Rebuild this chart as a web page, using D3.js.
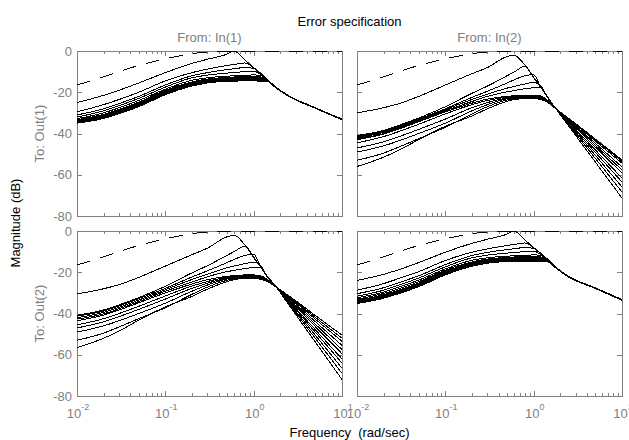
<!DOCTYPE html>
<html>
<head>
<meta charset="utf-8">
<script src="https://cdn.jsdelivr.net/npm/d3@7"></script>
<style>
body { margin: 0; background: #fff; }
svg text { font-family: "Liberation Sans", Arial, sans-serif; }
</style>
</head>
<body>
<svg id="chart" width="629" height="440"></svg>
<script>
// frequency grid (rad/sec) shared by every curve
var freq = [0.01, 0.02, 0.03, 0.05, 0.1, 0.2, 0.3, 0.5, 0.6, 0.8, 1, 1.2, 1.4, 1.75, 2.5, 5, 10];
var magTicks = [0, -20, -40, -60, -80];
var decades = [0.01, 0.1, 1, 10];
var decadeExp = ["-2", "-1", "0", "1"];
var inputNames = ["From: In(1)", "From: In(2)"];
var outputNames = ["To: Out(1)", "To: Out(2)"];

// dashed weighting curve (same in all four panels)
var weightDb = [-16.5, -12.5, -10, -7, -3.8, -1.3, -0.5, -0.1, 0, 0, 0, 0, 0, 0, 0, 0, 0];

var out1In1 = [
  [-25, -21.5, -19, -15.5, -10.5, -6, -4, -1.5, 0, -4.5, -8, -10.8, -13.4, -17.2, -21.7, -27.5, -33],
  [-29.5, -26, -23.5, -20, -14.5, -10.5, -8.8, -7, -6.5, -5.8, -8.2, -10.9, -13.5, -17.2, -21.7, -27.5, -33.1],
  [-31, -28, -25.5, -22, -16.5, -12, -10.5, -9, -8.6, -8, -8.4, -11, -13.6, -17.3, -21.8, -27.6, -33.1],
  [-32, -29, -26.5, -23, -17.5, -13, -11.7, -10.7, -10.4, -10, -9.8, -11.3, -13.7, -17.3, -21.8, -27.6, -33.2],
  [-32.8, -30, -27.5, -24, -18.5, -14.2, -13, -12.2, -12, -11.8, -11.6, -11.8, -13.8, -17.4, -21.8, -27.6, -33.2],
  [-33.3, -30.7, -28.3, -24.8, -19, -15, -13.6, -12.8, -12.6, -12.4, -12.3, -12.5, -13.9, -17.4, -21.9, -27.7, -33.2],
  [-33.7, -31.2, -28.8, -25.3, -19.5, -15.5, -14, -13.2, -13, -12.9, -12.8, -13, -14, -17.4, -21.9, -27.7, -33.3],
  [-34, -31.6, -29.2, -25.7, -20, -15.9, -14.4, -13.6, -13.4, -13.3, -13.3, -13.5, -14.1, -17.5, -21.9, -27.7, -33.3],
  [-34.3, -32, -29.6, -26.1, -20.4, -16.2, -14.8, -14, -13.8, -13.7, -13.7, -13.9, -14.2, -17.5, -22, -27.8, -33.3],
  [-34.6, -32.3, -30, -26.5, -20.8, -16.6, -15.1, -14.3, -14.2, -14.1, -14.1, -14.2, -14.4, -17.6, -22, -27.8, -33.4],
  [-35, -32.7, -30.4, -27, -21.2, -17, -15.5, -14.7, -14.6, -14.5, -14.5, -14.6, -14.6, -17.6, -22, -27.8, -33.4]
];

var out1In2 = [
  [-30, -27.5, -25.5, -22, -16.5, -11, -8, -2.7, -2.1, -7, -12.8, -17.5, -21.5, -27.5, -36.5, -53.9, -71.3],
  [-41, -38.5, -36, -32.5, -27, -20.5, -17, -12, -10.2, -7.4, -13, -17.6, -21.6, -27.5, -35.9, -52.1, -68.4],
  [-41.5, -39, -36.5, -33, -28, -22.5, -19.5, -15.5, -14, -12, -11.5, -17.5, -21.7, -27.5, -35.4, -50.6, -65.9],
  [-42, -39.5, -37, -33.5, -28.5, -23.5, -21, -18, -17.2, -16, -15.2, -16.8, -21.8, -27.5, -34.9, -49.2, -63.5],
  [-42.5, -40, -37.5, -34, -29, -24.5, -22, -19.8, -19.2, -18.3, -17.8, -17.6, -21.9, -27.5, -34.5, -48, -61.6],
  [-43, -40.3, -37.8, -34.3, -29.5, -25.3, -23.3, -22, -21.7, -21.4, -21.4, -21.8, -23.5, -27.5, -34, -46.6, -59.2],
  [-44.5, -41.5, -39, -35.5, -30.5, -26, -24, -22.4, -22.1, -21.9, -21.9, -22.3, -23.8, -27.6, -33.7, -45.7, -57.7],
  [-47, -44, -41.5, -38, -33, -27.5, -25, -22.8, -22.4, -22.2, -22.2, -22.6, -24, -27.6, -33.4, -44.8, -56.2],
  [-49, -46, -43.5, -40, -35, -29, -26, -23.2, -22.8, -22.5, -22.5, -22.9, -24.2, -27.7, -33, -43.7, -54.4],
  [-53, -49.5, -46.5, -42.5, -37, -30.5, -27, -23.8, -23.2, -22.8, -22.8, -23.2, -24.4, -27.7, -32.8, -43.1, -53.5],
  [-56, -51.5, -48, -43, -36.5, -31.5, -28, -24.4, -23.6, -23.1, -23.1, -23.5, -24.6, -27.8, -32.7, -42.7, -52.8]
];

var out2In1 = [
  [-30.5, -28, -26, -22.5, -17, -11.5, -8.3, -2.8, -2, -7, -12.7, -17.4, -21.4, -26.5, -35.8, -53.9, -72],
  [-40.8, -38.3, -35.8, -32.3, -26.8, -20.3, -16.8, -11.8, -10, -7.3, -12.9, -17.5, -21.5, -26.5, -35.2, -52.1, -69],
  [-41.3, -38.8, -36.3, -32.8, -27.8, -22.3, -19.3, -15.3, -13.8, -11.8, -11.3, -17.4, -21.6, -26.5, -34.7, -50.6, -66.5],
  [-42, -39.5, -37, -33.5, -28.5, -23.5, -21, -17.8, -17, -15.8, -15.1, -16.8, -21.7, -26.6, -34.2, -49.1, -64],
  [-42.7, -40.2, -37.7, -34.2, -29.2, -24.7, -22.2, -19.7, -19.1, -18.2, -17.7, -17.5, -21.8, -26.6, -33.8, -47.9, -62],
  [-43.5, -40.8, -38.3, -34.8, -30, -25.7, -23.6, -22, -21.6, -21.3, -21.3, -21.7, -23.2, -26.6, -33.3, -46.4, -59.5],
  [-45.5, -42.5, -40, -36.5, -31.5, -26.7, -24.5, -22.4, -22, -21.8, -21.8, -22.2, -23.5, -26.7, -32.9, -45.2, -57.5],
  [-47, -44, -41.5, -38, -33, -27.8, -25.3, -22.9, -22.4, -22.1, -22.1, -22.5, -23.7, -26.7, -32.4, -44, -55.5],
  [-49, -46, -43.5, -40, -35, -29.2, -26.2, -23.3, -22.8, -22.4, -22.4, -22.8, -23.9, -26.8, -32, -42.8, -53.5],
  [-53, -49.5, -46.5, -42.5, -37.2, -30.7, -27.2, -23.9, -23.2, -22.7, -22.7, -23.1, -24.1, -26.8, -31.7, -41.9, -52],
  [-56.5, -52, -48.5, -43.2, -36.8, -31.7, -28.2, -24.5, -23.6, -23, -23, -23.4, -24.3, -26.9, -31.4, -41, -50.5]
];

var out2In2 = [
  [-24, -21, -18.7, -15.3, -10.3, -6, -4, -1.5, 0, -4.5, -8, -10.8, -13.2, -17.2, -22, -27.6, -33.2],
  [-28.7, -25.5, -23, -19.7, -14.3, -10.3, -8.7, -7, -6.5, -5.8, -8.2, -10.9, -13.3, -17.3, -22, -27.6, -33.2],
  [-30.4, -27.5, -25, -21.7, -16.3, -11.9, -10.4, -9, -8.6, -8, -8.4, -11, -13.4, -17.3, -22.1, -27.7, -33.3],
  [-31.6, -28.7, -26.2, -22.8, -17.4, -13, -11.7, -10.7, -10.4, -10, -9.8, -11.3, -13.5, -17.4, -22.1, -27.7, -33.3],
  [-32.4, -29.6, -27.2, -23.8, -18.4, -14.2, -13, -12.2, -12, -11.8, -11.6, -11.8, -13.6, -17.4, -22.2, -27.7, -33.4],
  [-33, -30.3, -28, -24.6, -19, -15, -13.6, -12.8, -12.6, -12.4, -12.3, -12.5, -13.7, -17.5, -22.2, -27.8, -33.4],
  [-33.5, -30.9, -28.6, -25.2, -19.5, -15.5, -14, -13.2, -13, -12.9, -12.8, -13, -13.9, -17.5, -22.2, -27.8, -33.5],
  [-34, -31.4, -29.1, -25.7, -20, -15.9, -14.4, -13.6, -13.4, -13.3, -13.3, -13.5, -14, -17.5, -22.3, -27.8, -33.5],
  [-34.4, -31.8, -29.5, -26.1, -20.4, -16.3, -14.8, -14, -13.8, -13.7, -13.7, -13.9, -14.2, -17.6, -22.3, -27.9, -33.5],
  [-34.8, -32.2, -29.9, -26.5, -20.8, -16.7, -15.2, -14.4, -14.3, -14.2, -14.2, -14.3, -14.4, -17.6, -22.3, -27.9, -33.6],
  [-35.2, -32.6, -30.3, -27, -21.3, -17.1, -15.6, -14.8, -14.7, -14.6, -14.6, -14.7, -14.7, -17.7, -22.4, -27.9, -33.6]
];

var grey = "#808080";
var colX = [77, 357], rowY = [51, 231];
var pw = 265, ph = 165;

var panels = [
  {row: 0, col: 0, curves: out1In1},
  {row: 0, col: 1, curves: out1In2},
  {row: 1, col: 0, curves: out2In1},
  {row: 1, col: 1, curves: out2In2}
];

var svg = d3.select("#chart");

panels.forEach(function(p, i) {
  var x0 = colX[p.col], y0 = rowY[p.row];
  var x = d3.scaleLog().domain([0.01, 10]).range([x0, x0 + pw]);
  var y = d3.scaleLinear().domain([-80, 0]).range([y0 + ph, y0]);

  var g = svg.append("g");

  g.append("clipPath").attr("id", "clip" + i)
    .append("rect").attr("x", x0).attr("y", y0 - 1).attr("width", pw + 1).attr("height", ph + 2);

  // frame
  g.append("rect")
    .attr("x", x0 + 0.5).attr("y", y0 + 0.5)
    .attr("width", pw).attr("height", ph)
    .attr("fill", "none").attr("stroke", grey).attr("stroke-width", 1);

  // x ticks (major + minor), inside top and bottom
  var minor = [];
  decades.slice(0, 3).forEach(function(d) {
    for (var k = 2; k <= 9; k++) minor.push(d * k);
  });
  var allX = decades.map(function(d) { return {v: d, len: 5}; })
    .concat(minor.map(function(d) { return {v: d, len: 3}; }));
  allX.forEach(function(t) {
    var xx = Math.round(x(t.v)) + 0.5;
    g.append("line").attr("x1", xx).attr("x2", xx)
      .attr("y1", y0).attr("y2", y0 + t.len).attr("stroke", grey);
    g.append("line").attr("x1", xx).attr("x2", xx)
      .attr("y1", y0 + ph).attr("y2", y0 + ph - t.len).attr("stroke", grey);
  });

  // y ticks on both sides
  magTicks.forEach(function(m) {
    var yy = Math.round(y(m)) + 0.5;
    g.append("line").attr("x1", x0).attr("x2", x0 + 5).attr("y1", yy).attr("y2", yy).attr("stroke", grey);
    g.append("line").attr("x1", x0 + pw - 5).attr("x2", x0 + pw).attr("y1", yy).attr("y2", yy).attr("stroke", grey);
  });

  if (p.col == 0) {
    g.selectAll(".ylab").data(magTicks).enter().append("text")
      .attr("x", x0 - 5).attr("y", function(d) { return y(d) + 4.5; })
      .attr("text-anchor", "end").attr("font-size", 13).attr("fill", grey)
      .text(function(d) { return d; });
    svg.append("text")
      .attr("transform", "translate(44," + (y0 + ph / 2) + ") rotate(-90)")
      .attr("text-anchor", "middle").attr("font-size", 13).attr("fill", grey)
      .text(outputNames[p.row]);
  }
  if (p.row == 0) {
    svg.append("text").attr("x", x0 + pw / 2).attr("y", 42)
      .attr("text-anchor", "middle").attr("font-size", 13).attr("fill", grey)
      .text(inputNames[p.col]);
  }
  if (p.row == 1) {
    decades.forEach(function(d, j) {
      var t = g.append("text").attr("x", x(d) + 1).attr("y", y0 + ph + 22)
        .attr("text-anchor", "middle").attr("font-size", 13).attr("fill", grey);
      t.append("tspan").text("10");
      t.append("tspan").attr("dy", -8).attr("font-size", 9).text(decadeExp[j]);
    });
  }

  var line = d3.line()
    .x(function(d, k) { return x(freq[k]); })
    .y(function(d) { return y(d); })
    .curve(d3.curveMonotoneX);

  var curves = g.append("g").attr("clip-path", "url(#clip" + i + ")");
  curves.selectAll("path.mag").data(p.curves).enter().append("path")
    .attr("class", "mag")
    .attr("d", line)
    .attr("fill", "none").attr("stroke", "#000").attr("stroke-width", 1)
    .attr("shape-rendering", "crispEdges");
  curves.append("path")
    .attr("d", line(weightDb))
    .attr("fill", "none").attr("stroke", "#000").attr("stroke-width", 1)
    .attr("shape-rendering", "crispEdges")
    .attr("stroke-dasharray", "14,10");
});

svg.append("text").attr("x", 349.5).attr("y", 26)
  .attr("text-anchor", "middle").attr("font-size", 13).attr("fill", "#000")
  .text("Error specification");

svg.append("text").attr("x", 349.5).attr("y", 437)
  .attr("text-anchor", "middle").attr("font-size", 13).attr("fill", "#000")
  .attr("xml:space", "preserve")
  .text("Frequency  (rad/sec)");

svg.append("text")
  .attr("transform", "translate(20,223) rotate(-90)")
  .attr("text-anchor", "middle").attr("font-size", 13).attr("fill", "#000")
  .text("Magnitude (dB)");
</script>
</body>
</html>
